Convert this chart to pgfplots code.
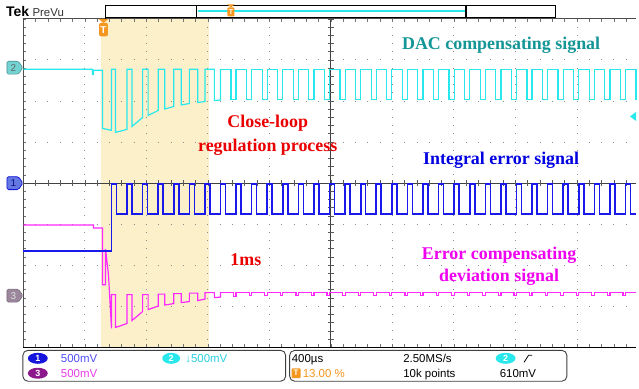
\documentclass[border=0pt]{standalone}
\usepackage{fontspec}
\setmainfont{Liberation Serif}
\newfontfamily\sansf{Liberation Sans}
\usepackage{pgfplots}
\pgfplotsset{compat=1.18}
\definecolor{wavecyan}{RGB}{40,232,236}
\definecolor{waveblue}{RGB}{25,25,235}
\definecolor{wavemag}{RGB}{255,40,255}
\definecolor{hl}{RGB}{252,240,202}
\definecolor{tealtxt}{RGB}{20,150,150}
\definecolor{redtxt}{RGB}{235,0,0}
\definecolor{bltxt}{RGB}{0,0,225}
\definecolor{mgtxt}{RGB}{240,0,240}
\definecolor{orng}{RGB}{245,150,30}
\definecolor{gridc}{RGB}{140,140,140}
\definecolor{chthree}{RGB}{140,25,140}
\definecolor{chone}{RGB}{20,20,220}
\definecolor{bluinfo}{RGB}{80,80,250}
\definecolor{cyinfo}{RGB}{40,210,225}
\definecolor{mginfo}{RGB}{230,60,230}
\definecolor{tagtwo}{RGB}{115,210,210}
\definecolor{tagone}{RGB}{100,120,225}
\definecolor{tagthree}{RGB}{155,135,155}
\tikzset{
  vdot/.style={gridc, line width=1pt, dash pattern=on 1pt off 7.25pt},
  hdot/.style={gridc, line width=1pt, dash pattern=on 1pt off 11.36pt},
  info/.style={anchor=base west, inner sep=0pt, font=\sansf\fontsize{11.5}{12}\selectfont},
  ann/.style={anchor=base, inner sep=0pt, font=\bfseries\fontsize{18}{20}\selectfont},
}
\begin{document}
\begin{tikzpicture}
\begin{axis}[scale only axis, width=615.5pt, height=330pt,
  xmin=23.5, xmax=639, ymin=19, ymax=349, y dir=reverse,
  axis lines=none, clip=false, xtick=\empty, ytick=\empty]
\fill[white] (0,0) rectangle (639,390);
% highlighted region
\addplot[fill=hl, draw=none] coordinates {(101.7,19)(210,19)(210,349)(101.7,349)};
% graticule dots
\draw[vdot] (85.3,18.5) -- (85.3,349.5);
\draw[vdot] (147.1,18.5) -- (147.1,349.5);
\draw[vdot] (208.9,18.5) -- (208.9,349.5);
\draw[vdot] (270.7,18.5) -- (270.7,349.5);
\draw[vdot] (394.3,18.5) -- (394.3,349.5);
\draw[vdot] (456.1,18.5) -- (456.1,349.5);
\draw[vdot] (517.9,18.5) -- (517.9,349.5);
\draw[vdot] (579.7,18.5) -- (579.7,349.5);
\draw[hdot] (23,60.25) -- (639,60.25);
\draw[hdot] (23,101.5) -- (639,101.5);
\draw[hdot] (23,142.75) -- (639,142.75);
\draw[hdot] (23,225.25) -- (639,225.25);
\draw[hdot] (23,266.5) -- (639,266.5);
\draw[hdot] (23,307.75) -- (639,307.75);
% edge ticks
\draw[black!55, line width=3pt, dash pattern=on 0.8pt off 7.45pt] (25,18.6) -- (25,349.5);
\draw[black!55, line width=3pt, dash pattern=on 0.8pt off 11.56pt] (23.1,20.5) -- (639,20.5);
\draw[black!55, line width=3pt, dash pattern=on 0.8pt off 11.56pt] (23.1,347.5) -- (639,347.5);
% centre lines with ticks
\draw[black!75, line width=1pt] (332.5,19) -- (332.5,349);
\draw[black!75, line width=1pt] (23.5,184) -- (639,184);
\draw[black!65, line width=6pt, dash pattern=on 0.8pt off 7.45pt] (332.5,18.6) -- (332.5,349.5);
\draw[black!65, line width=6pt, dash pattern=on 0.8pt off 11.56pt] (23.1,184) -- (639,184);
% frame
\draw[black!70, line width=1pt] (639,19) -- (23.5,19) -- (23.5,349);
\draw[black, line width=1.5pt] (23.5,349) -- (639,349);

% channel 2 (cyan) DAC compensating signal
\addplot[color=wavecyan, line width=1.2pt] coordinates {(23.5,69.5)(93,69.5)(93,75)(94,75)(94,70.5)(103,70.5)(103,129)(112,131)(112,69.5)(116,69.5)(116,133)(127.65,130)(127.65,69.5)(132.65,69.5)(132.65,127)(143.3,118)(143.3,69.5)(148.8,69.5)(148.8,116)(158.95,111)(158.95,69.5)(165.45,69.5)(165.45,109.5)(174.6,107)(174.6,69.5)(182.1,69.5)(182.1,105.5)(190.25,104)(190.25,69.5)(198.75,69.5)(198.75,103)(205.9,102)(205.9,69.5)(215.4,69.5)(215.4,101)(221.55,100.5)(221.55,69.5)};
\addplot[color=wavecyan, line width=1.2pt, const plot] coordinates {(221.55,69.5)(232.05,100)(237.2,69.5)(247.7,100)(252.85,69.5)(263.35,100)(268.5,69.5)(279,100)(284.15,69.5)(294.65,100)(299.8,69.5)(310.3,100)(315.45,69.5)(325.95,100)(331.1,69.5)(341.6,100)(346.75,69.5)(357.25,100)(362.4,69.5)(372.9,100)(378.05,69.5)(388.55,100)(393.7,69.5)(404.2,100)(409.35,69.5)(419.85,100)(425,69.5)(435.5,100)(440.65,69.5)(451.15,100)(456.3,69.5)(466.8,100)(471.95,69.5)(482.45,100)(487.6,69.5)(498.1,100)(503.25,69.5)(513.75,100)(518.9,69.5)(529.4,100)(534.55,69.5)(545.05,100)(550.2,69.5)(560.7,100)(565.85,69.5)(576.35,100)(581.5,69.5)(592,100)(597.15,69.5)(607.65,100)(612.8,69.5)(623.3,100)(628.45,69.5)(638.95,100)(639,100)};

% channel 3 (magenta) error compensating deviation signal
\addplot[color=wavemag, line width=1.2pt] coordinates {(23.5,226)(94,226)(94,229)(103,229)(103,286)(106,286)(106,250)(109,276)(112,330)(112,296)(116,296)(116,329)(127.65,325)(127.65,296)(132.65,296)(132.65,322)(143.3,313)(143.3,296)(148.8,296)(148.8,311)(158.95,307.5)(158.95,295.5)(165.45,295.5)(165.45,306.5)(174.6,305)(174.6,295)(182.1,295)(182.1,304)(190.25,303)(190.25,294.5)(198.75,294.5)(198.75,302)(205.9,300.5)(205.9,294)(215.4,294)(215.4,299)(221.55,298.5)(221.55,293.5)};
\addplot[color=wavemag, line width=1.2pt, const plot] coordinates {(221.55,293.5)(234.7,297.5)(237.2,293.5)(250.35,297)(252.85,293.5)(266,296.8)(268.5,293.5)(281.65,296.8)(284.15,293.5)(297.3,296.8)(299.8,293.5)(312.95,296.8)(315.45,293.5)(328.6,296.8)(331.1,293.5)(344.25,296.8)(346.75,293.5)(359.9,296.8)(362.4,293.5)(375.55,296.8)(378.05,293.5)(391.2,296.8)(393.7,293.5)(406.85,296.8)(409.35,293.5)(422.5,296.8)(425,293.5)(438.15,296.8)(440.65,293.5)(453.8,296.8)(456.3,293.5)(469.45,296.8)(471.95,293.5)(485.1,296.8)(487.6,293.5)(500.75,296.8)(503.25,293.5)(516.4,296.8)(518.9,293.5)(532.05,296.8)(534.55,293.5)(547.7,296.8)(550.2,293.5)(563.35,296.8)(565.85,293.5)(579,296.8)(581.5,293.5)(594.65,296.8)(597.15,293.5)(610.3,296.8)(612.8,293.5)(625.95,296.8)(628.45,293.5)(639,293.5)};

% channel 1 (blue) integral error signal
\addplot[color=waveblue, line width=1.8pt] coordinates {(23.5,252.5)(112,252.5)(112,185)};
\addplot[color=waveblue, line width=1.6pt, const plot] coordinates {(112,185)(117,215)(127.65,185)(132.65,215)(143.3,185)(148.3,215)(158.95,185)(163.95,215)(174.6,185)(179.6,215)(190.25,185)(195.25,215)(205.9,185)(210.9,215)(221.55,185)(226.55,215)(237.2,185)(242.2,215)(252.85,185)(257.85,215)(268.5,185)(273.5,215)(284.15,185)(289.15,215)(299.8,185)(304.8,215)(315.45,185)(320.45,215)(331.1,185)(336.1,215)(346.75,185)(351.75,215)(362.4,185)(367.4,215)(378.05,185)(383.05,215)(393.7,185)(398.7,215)(409.35,185)(414.35,215)(425,185)(430,215)(440.65,185)(445.65,215)(456.3,185)(461.3,215)(471.95,185)(476.95,215)(487.6,185)(492.6,215)(503.25,185)(508.25,215)(518.9,185)(523.9,215)(534.55,185)(539.55,215)(550.2,185)(555.2,215)(565.85,185)(570.85,215)(581.5,185)(586.5,215)(597.15,185)(602.15,215)(612.8,185)(617.8,215)(628.45,185)(633.45,215)(639,215)};

% annotations
\node[ann, text=tealtxt] at (503.5,50) {DAC compensating signal};
\node[ann, text=redtxt] at (269,128) {Close-loop};
\node[ann, text=redtxt] at (269,152) {regulation process};
\node[ann, text=bltxt] at (503.5,165) {Integral error signal};
\node[ann, text=redtxt] at (247,267) {1ms};
\node[ann, text=mgtxt] at (501.5,260.5) {Error compensating};
\node[ann, text=mgtxt] at (501.5,283) {deviation signal};

% channel tags
\filldraw[fill=tagtwo, draw=tagtwo!70!black, line width=0.6pt, rounded corners=1.5pt] (7,61.5) -- (18.5,61.5) -- (23,68) -- (18.5,74.5) -- (7,74.5) -- cycle;
\node[inner sep=0pt, text=black!60, font=\sansf\fontsize{10}{10}\selectfont] at (13.5,68) {2};
\filldraw[fill=tagone, draw=chone, line width=0.8pt, rounded corners=1.5pt] (7,177.5) -- (18.5,177.5) -- (23,184) -- (18.5,190.5) -- (7,190.5) -- cycle;
\node[inner sep=0pt, text=chone!60!black, font=\sansf\fontsize{10}{10}\selectfont] at (13.5,184) {1};
\filldraw[fill=tagthree, draw=tagthree!80!black, line width=0.6pt, rounded corners=1.5pt] (7,290.5) -- (18.5,290.5) -- (23,297) -- (18.5,303.5) -- (7,303.5) -- cycle;
\node[inner sep=0pt, text=black!12, font=\sansf\fontsize{10}{10}\selectfont] at (13.5,297) {3};
% trigger level marker (right)
\fill[wavecyan] (633,117) -- (639,112.5) -- (639,121.5) -- cycle;

% trigger marker
\fill[orng] (99,19) -- (109,19) -- (104,23) -- cycle;
\fill[orng, rounded corners=2pt] (99.5,23) rectangle (108.5,36.5);
\node[inner sep=0pt, text=white, font=\sansf\bfseries\fontsize{10}{10}\selectfont] at (104,30) {T};

% top bar
\node[anchor=base west, inner sep=0pt, font=\sansf\bfseries\fontsize{14}{15}\selectfont] at (6,17) {Tek};
\node[anchor=base west, inner sep=0pt, text=black!80, font=\sansf\fontsize{11.5}{12}\selectfont] at (32.5,17) {PreVu};
\draw[black, line width=0.8pt] (106,5) rectangle (558,17.5);
\draw[black, line width=0.8pt] (106,17.5) -- (106,19);
\draw[wavecyan, line width=1.8pt] (199,11) -- (467,11);
\draw[black, line width=1.8pt] (197.5,5) -- (197.5,17.5);
\draw[black, line width=1.8pt] (468.5,5) -- (468.5,17.5);
\fill[orng] (228.5,4.5) -- (235.5,4.5) -- (232,7.5) -- cycle;
\fill[orng, rounded corners=1pt] (228.5,7.5) rectangle (235.5,16.5);
\node[inner sep=0pt, text=white, font=\sansf\bfseries\fontsize{7}{7}\selectfont] at (232,12) {T};

% bottom info boxes
\draw[black!75, line width=0.9pt, rounded corners=5pt] (23,352) rectangle (287,383);
\draw[black!75, line width=0.9pt, rounded corners=5pt] (291,352) rectangle (569.5,383);
\fill[chone] (38,360) ellipse [x radius=10pt, y radius=5.5pt];
\node[inner sep=0pt, text=white, font=\sansf\bfseries\fontsize{9}{9}\selectfont] at (38,360) {1};
\fill[chthree] (38,375) ellipse [x radius=10pt, y radius=5.5pt];
\node[inner sep=0pt, text=white, font=\sansf\bfseries\fontsize{9}{9}\selectfont] at (38,375) {3};
\fill[wavecyan] (172,360) ellipse [x radius=9pt, y radius=5.5pt];
\node[inner sep=0pt, text=white, font=\sansf\bfseries\fontsize{9}{9}\selectfont] at (172,360) {2};
\fill[wavecyan] (508,360) ellipse [x radius=10pt, y radius=5.5pt];
\node[inner sep=0pt, text=white, font=\sansf\bfseries\fontsize{9}{9}\selectfont] at (508,360) {2};
\node[info, text=bluinfo] at (61,364) {500mV};
\node[info, text=mginfo] at (61,379) {500mV};
\node[info, text=cyinfo] at (186,364) {↓500mV};
\node[info] at (293,364) {400µs};
\fill[orng, rounded corners=1pt] (293,370) rectangle (302,380);
\node[inner sep=0pt, text=white, font=\sansf\bfseries\fontsize{8}{8}\selectfont] at (297.5,375) {T};
\node[info, text=orng] at (304,379) {13.00 \%};
\node[info] at (405,364) {2.50MS/s};
\node[info] at (405,379) {10k points};
\node[info] at (502,379) {610mV};
\draw[black, line width=0.8pt] (526.5,364) -- (531,357) -- (534.5,357);
\end{axis}
\end{tikzpicture}
\end{document}
